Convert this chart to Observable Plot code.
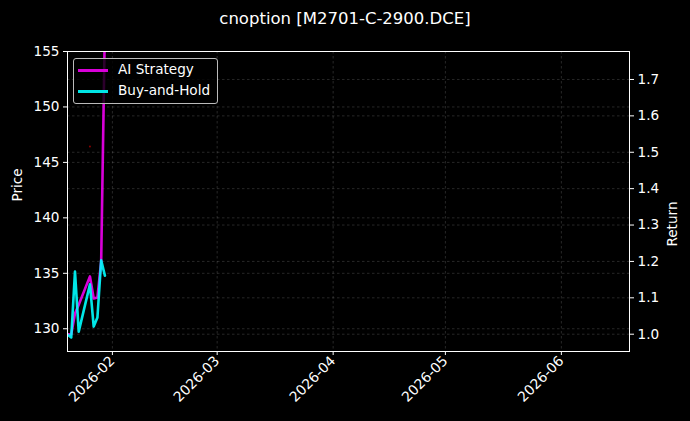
<!DOCTYPE html>
<html>
<head>
<meta charset="utf-8">
<script src="https://cdn.jsdelivr.net/npm/d3@7"></script>
<script src="https://cdn.jsdelivr.net/npm/@observablehq/plot@0.6"></script>
<style>
  html, body { margin: 0; padding: 0; background: #000; }
  #wrap { position: relative; width: 690px; height: 421px; background: #000; font-family: "DejaVu Sans", sans-serif; }
  #title { height: 40px; line-height: 37px; text-align: center; color: #fff; font-size: 16.5px; }
  #legend { position: absolute; left: 73px; top: 58px; width: 143px; height: 44px; border: 1px solid #bbb; border-radius: 3px; background: rgba(0,0,0,0.8); color: #fff; font-size: 13.6px; }
  .item { position: absolute; left: 4px; height: 20px; width: 140px; }
  .swatch { position: absolute; left: 0; top: 9px; width: 30px; height: 2.7px; }
  .lab { position: absolute; left: 40px; top: 1px; }
</style>
</head>
<body>
<div id="wrap">
  <div id="title">cnoption [M2701-C-2900.DCE]</div>
  <div id="chart"></div>
  <div id="legend">
    <div class="item" style="top:1px"><div class="swatch" style="background:#d900d9"></div><div class="lab">AI Strategy</div></div>
    <div class="item" style="top:22px"><div class="swatch" style="background:#00e6e6"></div><div class="lab">Buy-and-Hold</div></div>
  </div>
</div>
<script>
const dates = ["2026-01-20","2026-01-21","2026-01-22","2026-01-23","2026-01-26","2026-01-27","2026-01-28","2026-01-29","2026-01-30"];
const aiStrategy = [1.000, 1.000, 1.057, 1.081, 1.159, 1.098, 1.101, 1.200, 1.850];
const buyHold    = [0.999, 0.991, 1.172, 1.007, 1.137, 1.021, 1.046, 1.203, 1.161];
const signalDates = ["2026-01-26"];
const signalValues = [1.516];
const priceTicks = [130, 135, 140, 145, 150, 155];
const returnTicks = [1.0, 1.1, 1.2, 1.3, 1.4, 1.5, 1.6, 1.7];
const monthTicks = ["2026-02-01","2026-03-01","2026-04-01","2026-05-01","2026-06-01"];
const priceDomain = [127.95, 155.0];
const returnDomain = [0.9525, 1.7769];
const xDomain = ["2026-01-20T00:00Z", "2026-06-19T05:00Z"];

const toRet = d3.scaleLinear().domain(priceDomain).range(returnDomain);
const parse = s => new Date(s.length === 10 ? s + "T00:00Z" : s);

const ai = dates.map((d, i) => ({date: parse(d), value: aiStrategy[i]}));
const bh = dates.map((d, i) => ({date: parse(d), value: buyHold[i]}));
const sig = signalDates.map((d, i) => ({date: parse(d), value: signalValues[i]}));
const months = monthTicks.map(parse);
const priceTickRet = priceTicks.map(p => toRet(p));
const priceLabel = new Map(priceTickRet.map((r, i) => [r, String(priceTicks[i])]));

const gridStyle = {stroke: "#fff", strokeOpacity: 0.26, strokeWidth: 0.6, strokeDasharray: "2.5,2.5"};

const chart = Plot.plot({
  width: 690,
  height: 381,
  marginTop: 11,
  marginLeft: 67,
  marginRight: 61,
  marginBottom: 70,
  style: {background: "#000", color: "#fff", fontFamily: "DejaVu Sans, sans-serif", fontSize: "13.6px", overflow: "visible"},
  x: {type: "utc", domain: xDomain.map(parse)},
  y: {domain: returnDomain},
  marks: [
    Plot.ruleX(months, {...gridStyle}),
    Plot.ruleY(priceTickRet, {...gridStyle}),
    Plot.ruleY(returnTicks, {...gridStyle}),
    Plot.dot(sig, {x: "date", y: "value", r: 1, fill: "#8b0000", stroke: null}),
    Plot.line(ai, {x: "date", y: "value", stroke: "#ff00ff", strokeOpacity: 0.85, strokeWidth: 2.6, clip: true}),
    Plot.line(bh, {x: "date", y: "value", stroke: "#00ffff", strokeOpacity: 0.9, strokeWidth: 2.6, clip: true}),
    Plot.frame({stroke: "#fff", strokeWidth: 1}),
    Plot.axisX(months, {tickFormat: d3.utcFormat("%Y-%m"), tickRotate: -45, tickSize: 4, tickPadding: 3, label: null, stroke: "#fff", fill: "#fff", fontSize: 13.9, textDx: -5, textDy: 4}),
    Plot.axisY(priceTickRet, {anchor: "left", tickFormat: d => priceLabel.get(d), tickSize: 4, tickPadding: 4, label: null, stroke: "#fff", fill: "#fff"}),
    Plot.axisY(returnTicks, {anchor: "right", tickFormat: d3.format(".1f"), tickSize: 4, tickPadding: 4, label: null, stroke: "#fff", fill: "#fff"}),
    Plot.text(["Price"], {frameAnchor: "left", dx: -50, rotate: -90, fill: "#fff", fontSize: 13.6}),
    Plot.text(["Return"], {frameAnchor: "right", dx: 43, rotate: -90, fill: "#fff", fontSize: 13.6})
  ]
});
document.getElementById("chart").appendChild(chart);
</script>
</body>
</html>
